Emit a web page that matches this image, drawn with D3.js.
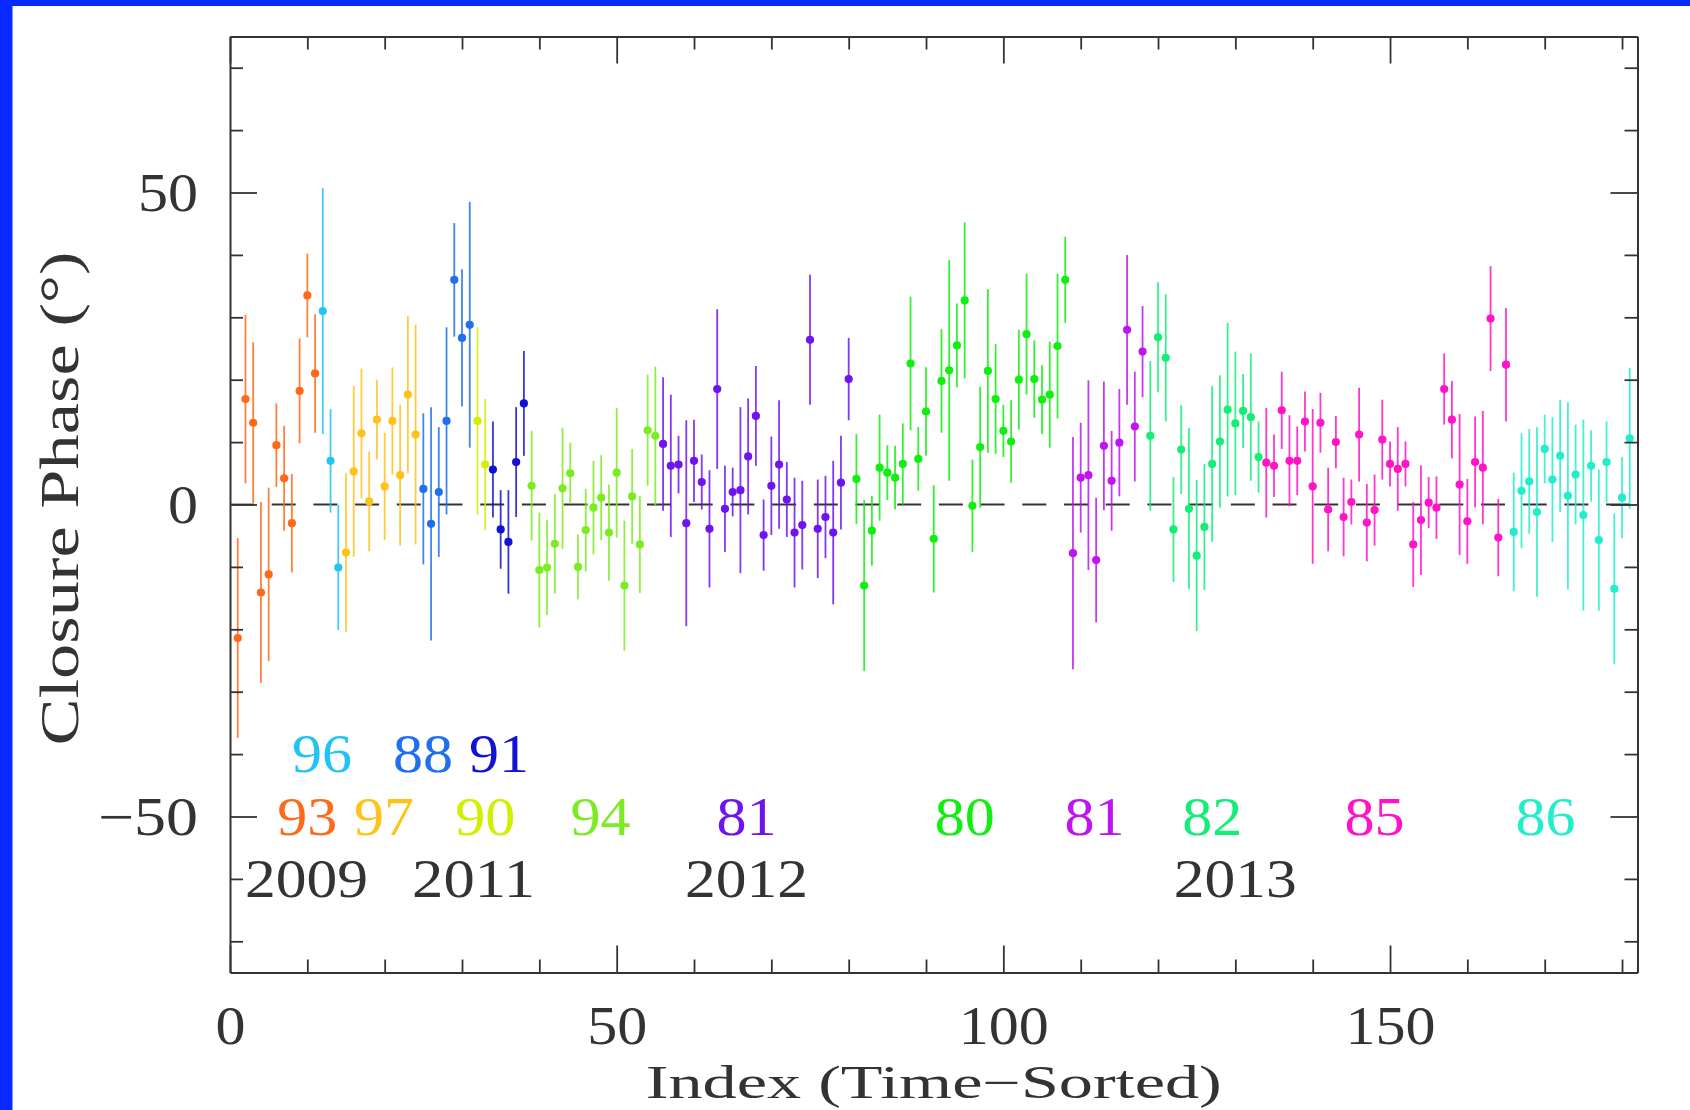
<!DOCTYPE html>
<html>
<head>
<meta charset="utf-8">
<script src="https://cdn.jsdelivr.net/npm/d3@7"></script>
<style>
  html, body { margin: 0; padding: 0; background: #0829ff; }
  svg { display: block; }
</style>
</head>
<body>
<svg id="chart" width="1690" height="1110"></svg>
<script>
// Closure phase per scan, sorted in time (degrees) and its 1-sigma error
const phase = [
  -21.4, 16.9, 13.1, -14.1, -11.2, 9.5, 4.2, -3.0, 18.2, 33.5,
  21.0, 31.0, 7.0, -10.1, -7.7, 5.3, 11.4, 0.5, 13.6, 2.9,
  13.4, 4.7, 17.6, 11.2, 2.5, -3.1, 2.0, 13.4, 36.0, 26.7,
  28.8, 13.4, 6.4, 5.6, -4.0, -6.0, 6.8, 16.2, 3.0, -10.5,
  -10.1, -6.3, 2.6, 5.0, -10.0, -4.1, -0.5, 1.1, -4.5, 5.1,
  -13.0, 1.3, -6.4, 11.9, 11.0, 9.7, 6.2, 6.4, -3.0, 7.0,
  3.6, -3.9, 18.5, -0.7, 2.0, 2.3, 7.7, 14.2, -4.9, 3.0,
  6.4, 0.8, -4.5, -3.3, 26.4, -3.9, -2.0, -4.5, 3.5, 20.1,
  4.1, -13.0, -4.2, 5.9, 5.1, 4.3, 6.5, 22.6, 7.3, 14.9,
  -5.5, 19.8, 21.5, 25.5, 32.7, -0.2, 9.2, 21.4, 16.9, 11.8,
  10.1, 20.0, 27.3, 20.1, 16.8, 17.6, 25.4, 36.0, -7.8, 4.3,
  4.7, -8.9, 9.4, 3.8, 9.9, 28.0, 12.5, 24.5, 11.0, 26.8,
  23.5, -4.0, 8.8, -0.7, -8.2, -3.6, 6.5, 10.1, 15.2, 13.0,
  15.0, 14.0, 7.6, 6.7, 6.2, 15.1, 7.0, 7.0, 13.3, 2.9,
  13.1, -0.8, 10.0, -2.0, 0.4, 11.2, -2.9, -0.9, 10.4, 6.5,
  5.7, 6.5, -6.4, -2.5, 0.3, -0.5, 18.5, 13.6, 3.2, -2.7,
  6.8, 5.9, 29.8, -5.3, 22.4, -4.4, 2.2, 3.7, -1.2, 8.9,
  4.0, 7.8, 1.4, 4.8, -1.7, 6.2, -5.7, 6.8, -13.5, 1.1,
  10.6
];

const phaseErr = [
  16.0, 13.5, 12.9, 14.5, 13.9, 6.7, 8.4, 7.9, 8.4, 6.7,
  9.5, 19.7, 8.3, 10.0, 12.7, 13.7, 10.4, 8.0, 6.4, 8.6,
  8.6, 11.3, 12.6, 17.6, 12.1, 18.7, 10.4, 15.0, 9.1, 11.0,
  19.7, 15.0, 10.5, 7.7, 6.3, 8.3, 8.8, 8.4, 8.8, 9.2,
  7.6, 8.0, 9.7, 4.9, 5.2, 6.6, 7.5, 6.8, 7.7, 10.4,
  10.4, 7.6, 7.8, 8.9, 11.1, 10.7, 11.4, 4.6, 16.5, 6.6,
  4.4, 9.4, 12.8, 6.9, 3.9, 13.3, 9.3, 8.0, 5.7, 7.9,
  10.3, 6.0, 8.8, 7.1, 10.4, 7.9, 6.6, 11.5, 7.5, 6.6,
  7.2, 13.7, 5.6, 8.5, 4.4, 5.1, 6.5, 10.7, 5.1, 7.1,
  8.6, 8.3, 17.7, 6.7, 12.5, 7.4, 9.7, 13.1, 8.8, 4.2,
  6.6, 8.0, 9.7, 6.2, 5.5, 8.5, 11.6, 6.9, 18.6, 8.8,
  15.2, 10.0, 10.3, 8.0, 8.6, 12.0, 8.8, 7.3, 12.0, 8.8,
  10.2, 8.4, 7.1, 12.9, 12.1, 10.1, 12.5, 10.6, 13.9, 11.5,
  5.9, 10.2, 5.7, 8.8, 5.0, 6.2, 7.3, 5.5, 4.8, 12.4,
  4.8, 6.7, 4.2, 6.3, 3.6, 7.5, 6.2, 5.7, 6.4, 3.6,
  6.7, 3.6, 6.8, 8.8, 4.1, 5.0, 5.7, 6.2, 11.3, 6.8,
  7.3, 9.1, 8.4, 6.2, 9.1, 9.5, 9.2, 8.4, 13.6, 5.5,
  10.0, 9.0, 15.0, 8.0, 15.3, 5.7, 11.3, 6.5, 12.1, 6.5,
  11.3
];

// Observing sessions: first scan index of each, its name and plotting colour
const sessionNames  = ["93", "96", "97", "88", "90", "91", "94", "81", "80", "81", "82", "85", "86"];
const sessionFirst  = [1, 12, 15, 25, 32, 34, 39, 56, 81, 109, 119, 134, 166];
const sessionColors = ["#ff6a1a", "#22c4f4", "#ffc21a", "#2070ee", "#d4ee00", "#1212d2",
                       "#7cec22", "#6e14ee", "#12ee12", "#c014f0", "#14ee78", "#ff14c8", "#22eecc"];
// Where each session name is written (index, degrees)
const sessionLabelAt = [[10.0, -50], [11.9, -40], [19.9, -50], [24.95, -40], [33.0, -50], [34.8, -40],
                        [47.9, -50], [66.8, -50], [95.0, -50], [111.8, -50], [127.0, -50], [148.0, -50], [170.1, -50]];

// Year markers
const yearNames   = ["2009", "2011", "2012", "2013"];
const yearLabelAt = [[9.9, -60], [31.5, -60], [66.8, -60], [130.0, -60]];

// Axis ticks
const xMajorTicks = [0, 50, 100, 150];
const yMajorTicks = [-50, 0, 50];

const xDomain = [0, 182];
const yDomain = [-75, 75];

const W = 1690, H = 1110;
const plot = { left: 230, right: 1637.5, top: 36.5, bottom: 972.5 };
const FONT = "'Liberation Serif', 'DejaVu Serif', serif";
const FS = 54;
const DIGIT_W = 30;
const INK = "#333333";

const svg = d3.select("#chart");

// white page inside the blue frame
svg.append("rect")
  .attr("x", 12.5).attr("y", 6)
  .attr("width", W - 12.5).attr("height", H - 6)
  .attr("fill", "#ffffff");

const x = d3.scaleLinear().domain(xDomain).range([plot.left, plot.right]);
const y = d3.scaleLinear().domain(yDomain).range([plot.bottom, plot.top]);

const scans = phase.map((v, i) => {
  const idx = i + 1;
  const s = d3.bisectRight(sessionFirst, idx) - 1;
  return { idx, v, e: phaseErr[i], color: sessionColors[s] };
});

// width a numeric label should occupy (wide, plotter-style digits)
function labelWidth(str) {
  let w = 0;
  for (const ch of str) w += (ch === "\u2212" || ch === "-") ? 40 : DIGIT_W;
  return w;
}

// zero reference line
svg.append("line")
  .attr("x1", x(xDomain[0])).attr("x2", x(xDomain[1]))
  .attr("y1", y(0)).attr("y2", y(0))
  .attr("stroke", "#333")
  .attr("stroke-width", 1.8)
  .attr("stroke-dasharray", "24 17.7");

// error bars
svg.append("g")
  .selectAll("line")
  .data(scans)
  .join("line")
  .attr("x1", d => x(d.idx)).attr("x2", d => x(d.idx))
  .attr("y1", d => y(d.v + d.e)).attr("y2", d => y(d.v - d.e))
  .attr("stroke", d => d.color)
  .attr("stroke-opacity", 0.85)
  .attr("stroke-width", 1.8);

// measured points
svg.append("g")
  .selectAll("circle")
  .data(scans)
  .join("circle")
  .attr("cx", d => x(d.idx))
  .attr("cy", d => y(d.v))
  .attr("r", 4.1)
  .attr("fill", d => d.color);

// ---- axes: every side carries inward ticks, long on majors, short on minors
const xMinor = d3.range(xDomain[0], xDomain[1] + 0.01, 10).filter(t => !xMajorTicks.includes(t));
const yMinor = d3.range(-70, 71, 10).filter(t => !yMajorTicks.includes(t));
const MAJOR = 27, MINOR = 13;

function frameAxis(makeAxis, transform, minorTicks, majorTicks, withLabels) {
  const gMinor = svg.append("g").attr("transform", transform)
    .call(makeAxis().tickValues(minorTicks).tickSizeInner(-MINOR).tickSizeOuter(0).tickFormat(""));
  const gMajor = svg.append("g").attr("transform", transform)
    .call(makeAxis().tickValues(majorTicks).tickSizeInner(-MAJOR).tickSizeOuter(0)
      .tickFormat(withLabels ? d3.format("d") : ""));
  [gMinor, gMajor].forEach(g => {
    g.selectAll("line").attr("stroke", "#333").attr("stroke-width", 1.8);
    g.select(".domain").attr("stroke", "#333").attr("stroke-width", 2);
  });
  gMinor.select(".domain").remove();
  return gMajor;
}

const bottomAxis = frameAxis(() => d3.axisBottom(x), `translate(0,${plot.bottom})`, xMinor, xMajorTicks, true);
frameAxis(() => d3.axisTop(x), `translate(0,${plot.top})`, xMinor, xMajorTicks, false);
const leftAxis = frameAxis(() => d3.axisLeft(y), `translate(${plot.left},0)`, yMinor, yMajorTicks, true);
frameAxis(() => d3.axisRight(y), `translate(${plot.right},0)`, yMinor, yMajorTicks, false);

bottomAxis.selectAll("text")
  .attr("y", 53).attr("dy", null)
  .attr("dominant-baseline", "central")
  .attr("font-family", FONT).attr("font-size", FS)
  .attr("fill", INK)
  .each(function () {
    d3.select(this).attr("textLength", labelWidth(this.textContent)).attr("lengthAdjust", "spacingAndGlyphs");
  });

leftAxis.selectAll("text")
  .attr("x", -32).attr("dy", null)
  .attr("dominant-baseline", "central")
  .attr("font-family", FONT).attr("font-size", FS)
  .attr("fill", INK)
  .each(function () {
    d3.select(this).attr("textLength", labelWidth(this.textContent)).attr("lengthAdjust", "spacingAndGlyphs");
  });

// axis titles
svg.append("text")
  .attr("x", (plot.left + plot.right) / 2).attr("y", 1082)
  .attr("text-anchor", "middle").attr("dominant-baseline", "central")
  .attr("font-family", FONT).attr("font-size", 46).attr("fill", INK)
  .attr("textLength", 576).attr("lengthAdjust", "spacingAndGlyphs")
  .text("Index (Time\u2212Sorted)");

svg.append("text")
  .attr("transform", `translate(60,${(plot.top + plot.bottom) / 2 - 6}) rotate(-90)`)
  .attr("text-anchor", "middle").attr("dominant-baseline", "central")
  .attr("font-family", FONT).attr("font-size", FS).attr("fill", INK)
  .attr("textLength", 494).attr("lengthAdjust", "spacingAndGlyphs")
  .text("Closure Phase (\u00b0)");

// session names in their colours, and the years below them
svg.append("g")
  .selectAll("text")
  .data(sessionNames.map((name, i) => ({ name, at: sessionLabelAt[i], color: sessionColors[i] })))
  .join("text")
  .attr("x", d => x(d.at[0])).attr("y", d => y(d.at[1]))
  .attr("text-anchor", "middle").attr("dominant-baseline", "central")
  .attr("font-family", FONT).attr("font-size", FS)
  .attr("fill", d => d.color)
  .attr("textLength", d => labelWidth(d.name)).attr("lengthAdjust", "spacingAndGlyphs")
  .text(d => d.name);

svg.append("g")
  .selectAll("text")
  .data(yearNames.map((name, i) => ({ name, at: yearLabelAt[i] })))
  .join("text")
  .attr("x", d => x(d.at[0])).attr("y", d => y(d.at[1]))
  .attr("text-anchor", "middle").attr("dominant-baseline", "central")
  .attr("font-family", FONT).attr("font-size", FS)
  .attr("fill", INK)
  .attr("textLength", d => labelWidth(d.name) + 3).attr("lengthAdjust", "spacingAndGlyphs")
  .text(d => d.name);
</script>
</body>
</html>
